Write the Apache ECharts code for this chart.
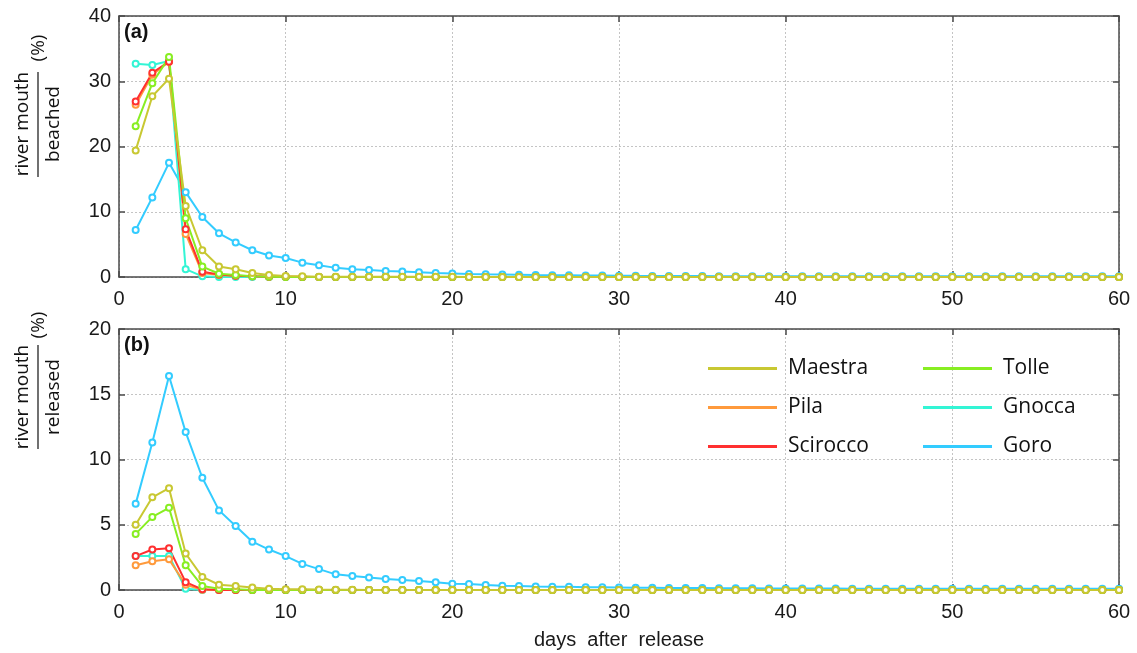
<!DOCTYPE html>
<html>
<head>
<meta charset="utf-8">
<script src="https://cdn.jsdelivr.net/npm/echarts@6/dist/echarts.min.js"></script>
<style>
  html, body { margin: 0; padding: 0; background: #fff; }
  #main { width: 1137px; height: 653px; }
</style>
</head>
<body>
<div id="main"></div>
<script>
// days after release
var days = [];
for (var d = 1; d <= 60; d++) days.push(d);

var names = ['Maestra', 'Pila', 'Scirocco', 'Tolle', 'Gnocca', 'Goro'];
var colors = {
  Maestra: '#c8c832',
  Pila: '#ff9a3c',
  Scirocco: '#ff3030',
  Tolle: '#88ee22',
  Gnocca: '#33f5d5',
  Goro: '#33ccff'
};

// (a) river mouth / beached (%)
var maestraB = [19.4,27.7,30.4,10.9,4.1,1.6,1.2,0.6,0.3,0.15,
  0.1,0.05,0.05,0.05,0.03,0.03,0.02,0.02,0.02,0.02,
  0,0,0,0,0,0,0,0,0,0, 0,0,0,0,0,0,0,0,0,0,
  0,0,0,0,0,0,0,0,0,0, 0,0,0,0,0,0,0,0,0,0];
var pilaB = [26.4,31.0,33.0,6.6,0.6,0.3,0.2,0.1,0.05,0.05,
  0,0,0,0,0,0,0,0,0,0, 0,0,0,0,0,0,0,0,0,0,
  0,0,0,0,0,0,0,0,0,0, 0,0,0,0,0,0,0,0,0,0,
  0,0,0,0,0,0,0,0,0,0];
var sciroccoB = [26.9,31.3,33.0,7.3,0.8,0.4,0.2,0.1,0.05,0.05,
  0,0,0,0,0,0,0,0,0,0, 0,0,0,0,0,0,0,0,0,0,
  0,0,0,0,0,0,0,0,0,0, 0,0,0,0,0,0,0,0,0,0,
  0,0,0,0,0,0,0,0,0,0];
var tolleB = [23.1,29.7,33.7,9.0,1.6,0.5,0.3,0.1,0.05,0,
  0,0,0,0,0,0,0,0,0,0, 0,0,0,0,0,0,0,0,0,0,
  0,0,0,0,0,0,0,0,0,0, 0,0,0,0,0,0,0,0,0,0,
  0,0,0,0,0,0,0,0,0,0];
var gnoccaB = [32.7,32.5,33.1,1.2,0.1,0,0,0,0,0,
  0,0,0,0,0,0,0,0,0,0, 0,0,0,0,0,0,0,0,0,0,
  0,0,0,0,0,0,0,0,0,0, 0,0,0,0,0,0,0,0,0,0,
  0,0,0,0,0,0,0,0,0,0];
var goroB = [7.2,12.2,17.5,13.0,9.2,6.7,5.3,4.1,3.3,2.9,
  2.2,1.8,1.4,1.2,1.07,0.92,0.84,0.72,0.6,0.55,
  0.46,0.42,0.4,0.35,0.3,0.28,0.26,0.24,0.22,0.2,
  0.18,0.17,0.16,0.15,0.14,0.13,0.12,0.12,0.11,0.11,
  0.1,0.1,0.1,0.1,0.1,0.1,0.1,0.1,0.1,0.1,
  0.1,0.1,0.1,0.1,0.1,0.1,0.1,0.1,0.1,0.1];

// (b) river mouth / released (%)
var maestraR = [5.0,7.1,7.8,2.8,1.0,0.4,0.3,0.2,0.1,0.05,
  0.05,0.03,0.02,0.02,0,0,0,0,0,0, 0,0,0,0,0,0,0,0,0,0,
  0,0,0,0,0,0,0,0,0,0, 0,0,0,0,0,0,0,0,0,0,
  0,0,0,0,0,0,0,0,0,0];
var pilaR = [1.9,2.2,2.35,0.4,0.02,0,0,0,0,0,
  0,0,0,0,0,0,0,0,0,0, 0,0,0,0,0,0,0,0,0,0,
  0,0,0,0,0,0,0,0,0,0, 0,0,0,0,0,0,0,0,0,0,
  0,0,0,0,0,0,0,0,0,0];
var sciroccoR = [2.6,3.1,3.2,0.6,0.05,0,0,0,0,0,
  0,0,0,0,0,0,0,0,0,0, 0,0,0,0,0,0,0,0,0,0,
  0,0,0,0,0,0,0,0,0,0, 0,0,0,0,0,0,0,0,0,0,
  0,0,0,0,0,0,0,0,0,0];
var tolleR = [4.3,5.6,6.3,1.9,0.3,0.1,0.05,0,0,0,
  0,0,0,0,0,0,0,0,0,0, 0,0,0,0,0,0,0,0,0,0,
  0,0,0,0,0,0,0,0,0,0, 0,0,0,0,0,0,0,0,0,0,
  0,0,0,0,0,0,0,0,0,0];
var gnoccaR = [2.6,2.6,2.6,0.1,0,0,0,0,0,0,
  0,0,0,0,0,0,0,0,0,0, 0,0,0,0,0,0,0,0,0,0,
  0,0,0,0,0,0,0,0,0,0, 0,0,0,0,0,0,0,0,0,0,
  0,0,0,0,0,0,0,0,0,0];
var goroR = [6.6,11.3,16.4,12.1,8.6,6.1,4.9,3.7,3.1,2.6,
  2.0,1.6,1.2,1.07,0.95,0.85,0.77,0.69,0.59,0.48,
  0.46,0.38,0.33,0.3,0.27,0.25,0.24,0.22,0.21,0.2,
  0.18,0.17,0.16,0.15,0.15,0.14,0.13,0.13,0.12,0.12,
  0.11,0.11,0.11,0.1,0.1,0.1,0.1,0.1,0.1,0.1,
  0.1,0.1,0.1,0.1,0.1,0.1,0.1,0.1,0.1,0.1];

var beached = { Maestra: maestraB, Pila: pilaB, Scirocco: sciroccoB, Tolle: tolleB, Gnocca: gnoccaB, Goro: goroB };
var released = { Maestra: maestraR, Pila: pilaR, Scirocco: sciroccoR, Tolle: tolleR, Gnocca: gnoccaR, Goro: goroR };

var drawOrder = ['Goro', 'Gnocca', 'Pila', 'Scirocco', 'Tolle', 'Maestra'];

var tickFont = 'Liberation Sans';
var textFont = 'Open Sans';
var frame = '#4a4a4a';

function xAx(gi, pos, labels) {
  return {
    type: 'value', gridIndex: gi, position: pos, min: 0, max: 60, interval: 10,
    axisLine: { show: true, onZero: false, lineStyle: { color: frame, width: 1.5 } },
    axisTick: { show: true, inside: true, length: 6, lineStyle: { color: frame, width: 1.5 } },
    axisLabel: { show: labels, fontFamily: tickFont, fontSize: 20, color: '#1a1a1a', margin: 12 },
    splitLine: { show: labels, lineStyle: { type: [2, 2], color: '#c4c4c4', width: 1 } }
  };
}
function yAx(gi, pos, max, step, labels) {
  return {
    type: 'value', gridIndex: gi, position: pos, min: 0, max: max, interval: step,
    axisLine: { show: true, onZero: false, lineStyle: { color: frame, width: 1.5 } },
    axisTick: { show: true, inside: true, length: 6, lineStyle: { color: frame, width: 1.5 } },
    axisLabel: { show: labels, fontFamily: tickFont, fontSize: 20, color: '#1a1a1a', margin: 8 },
    splitLine: { show: labels, lineStyle: { type: [2, 2], color: '#c4c4c4', width: 1 } }
  };
}

var series = [];
[beached, released].forEach(function (set, gi) {
  drawOrder.forEach(function (n) {
    series.push({
      name: n, type: 'line', xAxisIndex: gi * 2, yAxisIndex: gi * 2,
      data: days.map(function (dd, i) { return [dd, set[n][i]]; }),
      symbol: 'emptyCircle', symbolSize: 6,
      lineStyle: { color: colors[n], width: 2 },
      itemStyle: { color: colors[n], borderWidth: 1.3 }
    });
  });
});

function legendData(list) {
  return list.map(function (n) { return { name: n, itemStyle: { color: colors[n] } }; });
}
function legend(list, left) {
  return {
    data: legendData(list), orient: 'vertical', left: left, top: 351,
    icon: 'rect', itemWidth: 69, itemHeight: 3, itemGap: 14,
    selectedMode: false,
    textStyle: { fontFamily: textFont, fontSize: 21, color: '#111', lineHeight: 25, padding: [0, 0, 0, 6] }
  };
}

function yTitle(top, bottomWord, cy, pctY, barTop, barBot) {
  return [
    { type: 'text', x: 23, y: cy, rotation: Math.PI / 2,
      style: { text: top, font: '19px "Open Sans"', fill: '#111', align: 'center', verticalAlign: 'middle' } },
    { type: 'text', x: 54, y: cy, rotation: Math.PI / 2,
      style: { text: bottomWord, font: '19px "Open Sans"', fill: '#111', align: 'center', verticalAlign: 'middle' } },
    { type: 'line', shape: { x1: 38, y1: barTop, x2: 38, y2: barBot }, style: { stroke: '#111', lineWidth: 1.2 } },
    { type: 'text', x: 39, y: pctY, rotation: Math.PI / 2,
      style: { text: '(%)', font: '19px "Open Sans"', fill: '#111', align: 'center', verticalAlign: 'middle' } }
  ];
}

var chart = echarts.init(document.getElementById('main'));
var option = {
  animation: false,
  backgroundColor: '#fff',
  grid: [
    { left: 119, right: 18, top: 16, height: 261 },
    { left: 119, right: 18, top: 329, height: 261 }
  ],
  xAxis: [xAx(0, 'bottom', true), xAx(0, 'top', false), xAx(1, 'bottom', true), xAx(1, 'top', false)],
  yAxis: [yAx(0, 'left', 40, 10, true), yAx(0, 'right', 40, 10, false), yAx(1, 'left', 20, 5, true), yAx(1, 'right', 20, 5, false)],
  legend: [legend(['Maestra', 'Pila', 'Scirocco'], 703), legend(['Tolle', 'Gnocca', 'Goro'], 918)],
  graphic: [].concat(
    yTitle('river mouth', 'beached', 124, 48, 72, 177),
    yTitle('river mouth', 'released', 397, 325, 345, 449),
    [
      { type: 'text', x: 124, y: 22, style: { text: '(a)', font: 'bold 20px "Liberation Sans"', fill: '#111' } },
      { type: 'text', x: 124, y: 335, style: { text: '(b)', font: 'bold 20px "Liberation Sans"', fill: '#111' } },
      { type: 'text', x: 619, y: 640, style: { text: 'days  after  release', font: '20px "Liberation Sans"', fill: '#1a1a1a', align: 'center', verticalAlign: 'middle' } }
    ]
  ),
  series: series
};
chart.setOption(option);
</script>
</body>
</html>
